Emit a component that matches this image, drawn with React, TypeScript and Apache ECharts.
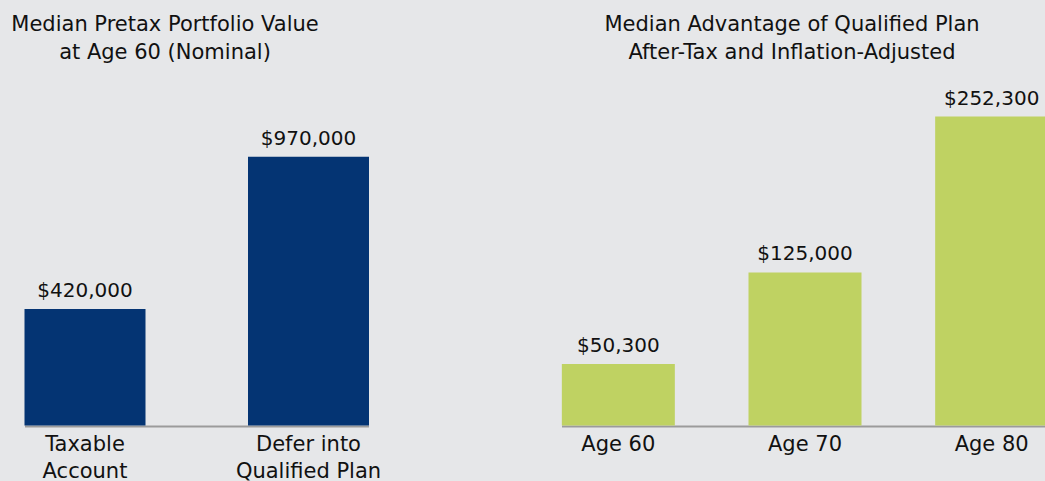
import React, { useEffect, useRef } from "react";
import * as echarts from "echarts";

const leftTitle = "Median Pretax Portfolio Value\nat Age 60 (Nominal)";
const rightTitle = "Median Advantage of Qualified Plan\nAfter-Tax and Inflation-Adjusted";
const leftCategories = ["Taxable\nAccount", "Defer into\nQualified Plan"];
const leftValues = [420000, 970000];
const rightCategories = ["Age 60", "Age 70", "Age 80"];
const rightValues = [50300, 125000, 252300];

const FONT = "DejaVu Sans";
const BG = "#e6e7e9";
const NAVY = "#043473";
const GREEN = "#bfd262";
const TEXT = "#111111";

const fmt = (v: number) => "$" + v.toLocaleString("en-US");

export default function App() {
  const ref = useRef<HTMLDivElement>(null);
  useEffect(() => {
    if (!ref.current) return;
    const chart = echarts.init(ref.current, null, { renderer: "svg" });
    const titleStyle = {
      fontFamily: FONT,
      fontSize: 21,
      lineHeight: 28,
      fontWeight: "normal" as const,
      color: TEXT,
    };
    const axisCommon = {
      axisLine: { show: false },
      axisTick: { show: false },
      axisLabel: {
        fontFamily: FONT,
        fontSize: 21,
        lineHeight: 27,
        color: TEXT,
        margin: 5,
        interval: 0,
      },
    };
    const valueAxisCommon = {
      type: "value" as const,
      min: 0,
      show: false,
      splitLine: { show: false },
    };
    const labelCommon = {
      show: true,
      position: "top" as const,
      distance: 9,
      fontFamily: FONT,
      fontSize: 20,
      color: TEXT,
      formatter: (p: any) => fmt(p.value),
    };
    chart.setOption({
      animation: false,
      backgroundColor: BG,
      title: [
        { text: leftTitle, left: 165, top: 10, padding: 0, textAlign: "center", textStyle: titleStyle },
        { text: rightTitle, left: 792, top: 10, padding: 0, textAlign: "center", textStyle: titleStyle },
      ],
      grid: [
        { left: -26.75, width: 447, top: 148.4, bottom: 55.5, outerBoundsMode: "none", containLabel: false },
        { left: 525, width: 560, top: 58.1, bottom: 55.5, outerBoundsMode: "none", containLabel: false },
      ],
      xAxis: [
        { type: "category", gridIndex: 0, data: leftCategories, ...axisCommon },
        { type: "category", gridIndex: 1, data: rightCategories, ...axisCommon },
      ],
      yAxis: [
        { ...valueAxisCommon, gridIndex: 0, max: 1000000 },
        { ...valueAxisCommon, gridIndex: 1, max: 300000 },
      ],
      series: [
        {
          type: "bar",
          xAxisIndex: 0,
          yAxisIndex: 0,
          data: leftValues,
          barWidth: 121,
          itemStyle: { color: NAVY },
          label: labelCommon,
        },
        {
          type: "bar",
          xAxisIndex: 1,
          yAxisIndex: 1,
          data: rightValues,
          barWidth: 113,
          itemStyle: { color: GREEN },
          label: labelCommon,
        },
      ],
      graphic: [
        {
          type: "line",
          shape: { x1: 25, y1: 426.5, x2: 369, y2: 426.5 },
          style: { stroke: "#9b9b9b", lineWidth: 2 },
          silent: true,
        },
        {
          type: "line",
          shape: { x1: 562, y1: 426.5, x2: 1045, y2: 426.5 },
          style: { stroke: "#9b9b9b", lineWidth: 2 },
          silent: true,
        },
      ],
    });
    return () => chart.dispose();
  }, []);
  return (
    <div
      ref={ref}
      style={{ position: "fixed", left: 0, top: 0, width: 1045, height: 481, background: BG }}
    />
  );
}
